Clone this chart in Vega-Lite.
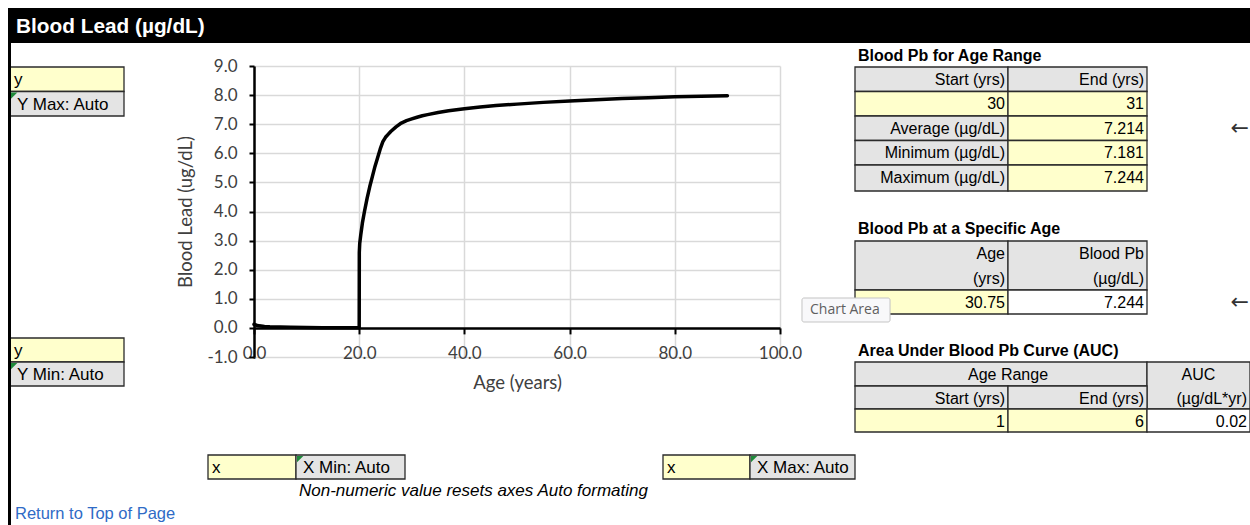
{
  "$schema": "https://vega.github.io/schema/vega-lite/v6.json",
  "padding": {"left": 8, "top": 8, "right": 0, "bottom": 0},
  "background": "#ffffff",
  "width": 526,
  "height": 291,
  "config": {"view": {"stroke": null}},
  "datasets": {
    "curve": [
      {"age": 0, "pb": 0.12}, {"age": 0.5, "pb": 0.09}, {"age": 1, "pb": 0.07}, {"age": 2, "pb": 0.05},
      {"age": 3, "pb": 0.04}, {"age": 5, "pb": 0.03}, {"age": 7, "pb": 0.02}, {"age": 10, "pb": 0.012},
      {"age": 13, "pb": 0.006}, {"age": 16, "pb": 0.003}, {"age": 19.9, "pb": 0.001}, {"age": 20, "pb": 0.0},
      {"age": 20.02, "pb": 2.6}, {"age": 20.1, "pb": 2.9}, {"age": 20.3, "pb": 3.2}, {"age": 20.6, "pb": 3.6},
      {"age": 21, "pb": 4.0}, {"age": 21.5, "pb": 4.45}, {"age": 22, "pb": 4.85}, {"age": 22.5, "pb": 5.2},
      {"age": 23, "pb": 5.55}, {"age": 23.5, "pb": 5.85}, {"age": 24, "pb": 6.15}, {"age": 24.5, "pb": 6.4},
      {"age": 25, "pb": 6.55}, {"age": 25.5, "pb": 6.65}, {"age": 26, "pb": 6.75}, {"age": 27, "pb": 6.91},
      {"age": 28, "pb": 7.04}, {"age": 29, "pb": 7.12}, {"age": 30, "pb": 7.18}, {"age": 31, "pb": 7.24},
      {"age": 32, "pb": 7.29}, {"age": 33, "pb": 7.33}, {"age": 35, "pb": 7.4}, {"age": 37, "pb": 7.46},
      {"age": 40, "pb": 7.53}, {"age": 43, "pb": 7.59}, {"age": 46, "pb": 7.64}, {"age": 50, "pb": 7.69},
      {"age": 55, "pb": 7.75}, {"age": 60, "pb": 7.8}, {"age": 65, "pb": 7.84}, {"age": 70, "pb": 7.88},
      {"age": 75, "pb": 7.91}, {"age": 80, "pb": 7.94}, {"age": 85, "pb": 7.96}, {"age": 90, "pb": 7.98}
    ],
    "cells": [
      {"c0": 0, "c1": 11, "r0": 0, "r1": 1, "kind": "bar"},
      {"c0": 1, "c1": 2, "r0": 2, "r1": 3, "kind": "input"},
      {"c0": 1, "c1": 2, "r0": 3, "r1": 4, "kind": "widget"},
      {"c0": 1, "c1": 2, "r0": 13, "r1": 14, "kind": "input"},
      {"c0": 1, "c1": 2, "r0": 14, "r1": 15, "kind": "widget"},
      {"c0": 3, "c1": 4, "r0": 18, "r1": 19, "kind": "input"},
      {"c0": 4, "c1": 5, "r0": 18, "r1": 19, "kind": "widget"},
      {"c0": 6, "c1": 7, "r0": 18, "r1": 19, "kind": "input"},
      {"c0": 7, "c1": 8, "r0": 18, "r1": 19, "kind": "widget"},
      {"c0": 8, "c1": 9, "r0": 2, "r1": 3, "kind": "head"},
      {"c0": 9, "c1": 10, "r0": 2, "r1": 3, "kind": "head"},
      {"c0": 8, "c1": 9, "r0": 3, "r1": 4, "kind": "input"},
      {"c0": 9, "c1": 10, "r0": 3, "r1": 4, "kind": "input"},
      {"c0": 8, "c1": 9, "r0": 4, "r1": 5, "kind": "head"},
      {"c0": 9, "c1": 10, "r0": 4, "r1": 5, "kind": "input"},
      {"c0": 8, "c1": 9, "r0": 5, "r1": 6, "kind": "head"},
      {"c0": 9, "c1": 10, "r0": 5, "r1": 6, "kind": "input"},
      {"c0": 8, "c1": 9, "r0": 6, "r1": 7, "kind": "head"},
      {"c0": 9, "c1": 10, "r0": 6, "r1": 7, "kind": "input"},
      {"c0": 8, "c1": 9, "r0": 9, "r1": 11, "kind": "head"},
      {"c0": 9, "c1": 10, "r0": 9, "r1": 11, "kind": "head"},
      {"c0": 8, "c1": 9, "r0": 11, "r1": 12, "kind": "input"},
      {"c0": 9, "c1": 10, "r0": 11, "r1": 12, "kind": "out"},
      {"c0": 8, "c1": 10, "r0": 14, "r1": 15, "kind": "head"},
      {"c0": 10, "c1": 11, "r0": 14, "r1": 16, "kind": "head"},
      {"c0": 8, "c1": 9, "r0": 15, "r1": 16, "kind": "head"},
      {"c0": 9, "c1": 10, "r0": 15, "r1": 16, "kind": "head"},
      {"c0": 8, "c1": 9, "r0": 16, "r1": 17, "kind": "input"},
      {"c0": 9, "c1": 10, "r0": 16, "r1": 17, "kind": "input"},
      {"c0": 10, "c1": 11, "r0": 16, "r1": 17, "kind": "out"}
    ],
    "frame": [{"c": 0, "r0": 1, "r1": 21}],
    "tip": [{"c0": 7.495, "c1": 8.229, "r0": 11.333, "r1": 12.333, "text": "Chart Area"}],
    "texts": [
      {"text": "Blood Lead (µg/dL)", "r": 0, "c": 0, "role": "bar"},
      {"text": "y", "r": 2, "c": 1, "role": "left"},
      {"text": "Y Max: Auto", "r": 3, "c": 1, "role": "wlabel"},
      {"text": "y", "r": 13, "c": 1, "role": "left"},
      {"text": "Y Min: Auto", "r": 14, "c": 1, "role": "wlabel"},
      {"text": "x", "r": 18, "c": 3, "role": "left"},
      {"text": "X Min: Auto", "r": 18, "c": 4, "role": "wlabel"},
      {"text": "x", "r": 18, "c": 6, "role": "left"},
      {"text": "X Max: Auto", "r": 18, "c": 7, "role": "wlabel"},
      {"text": "Non-numeric value resets axes Auto formating", "r": 19, "c": 4, "role": "note"},
      {"text": "Return to Top of Page", "r": 20, "c": 1, "role": "link"},
      {"text": "Blood Pb for Age Range", "r": 1, "c": 8, "role": "title"},
      {"text": "Start (yrs)", "r": 2, "c": 9, "role": "right"},
      {"text": "End (yrs)", "r": 2, "c": 10, "role": "right"},
      {"text": "30", "r": 3, "c": 9, "role": "right"},
      {"text": "31", "r": 3, "c": 10, "role": "right"},
      {"text": "Average (µg/dL)", "r": 4, "c": 9, "role": "right"},
      {"text": "7.214", "r": 4, "c": 10, "role": "right"},
      {"text": "Minimum (µg/dL)", "r": 5, "c": 9, "role": "right"},
      {"text": "7.181", "r": 5, "c": 10, "role": "right"},
      {"text": "Maximum (µg/dL)", "r": 6, "c": 9, "role": "right"},
      {"text": "7.244", "r": 6, "c": 10, "role": "right"},
      {"text": "←", "r": 4, "c": 10.9, "role": "arrow"},
      {"text": "Blood Pb at a Specific Age", "r": 8, "c": 8, "role": "title"},
      {"text": "Age", "r": 9, "c": 9, "role": "right"},
      {"text": "(yrs)", "r": 10, "c": 9, "role": "right"},
      {"text": "Blood Pb", "r": 9, "c": 10, "role": "right"},
      {"text": "(µg/dL)", "r": 10, "c": 10, "role": "right"},
      {"text": "30.75", "r": 11, "c": 9, "role": "right"},
      {"text": "7.244", "r": 11, "c": 10, "role": "right"},
      {"text": "←", "r": 11, "c": 10.9, "role": "arrow"},
      {"text": "Area Under Blood Pb Curve (AUC)", "r": 13, "c": 8, "role": "title"},
      {"text": "Age Range", "r": 14, "c": 9, "role": "center"},
      {"text": "AUC", "r": 14, "c": 10.5, "role": "center"},
      {"text": "(µg/dL*yr)", "r": 15, "c": 11, "role": "right"},
      {"text": "Start (yrs)", "r": 15, "c": 9, "role": "right"},
      {"text": "End (yrs)", "r": 15, "c": 10, "role": "right"},
      {"text": "1", "r": 16, "c": 9, "role": "right"},
      {"text": "6", "r": 16, "c": 10, "role": "right"},
      {"text": "0.02", "r": 16, "c": 11, "role": "right"}
    ]
  },
  "layer": [
    {
      "layer": [
        {
          "data": {"name": "curve"},
          "mark": {"type": "line", "color": "#000000", "strokeWidth": 3.5, "strokeCap": "round", "strokeJoin": "round"},
          "encoding": {
            "x": {
              "field": "age", "type": "quantitative",
              "scale": {"domain": [0, 100], "nice": false, "zero": false},
              "axis": {
                "title": "Age (years)", "values": [0, 20, 40, 60, 80, 100], "format": ".1f",
                "offset": -29.1, "domainColor": "#000000", "domainWidth": 2.5,
                "tickColor": "#000000", "tickWidth": 2, "tickSize": 6, "labelPadding": 11.5,
                "labelFont": "Lato", "labelFontSize": 17, "labelColor": "#404040",
                "labelFlush": false, "labelOverlap": false,
                "titleFont": "Lato", "titleFontSize": 18.5, "titleFontWeight": "normal",
                "titleColor": "#404040", "titlePadding": 12,
                "grid": true, "gridColor": "#d9d9d9", "gridWidth": 1.5
              }
            },
            "y": {
              "field": "pb", "type": "quantitative",
              "scale": {"domain": [-1, 9], "nice": false, "zero": false},
              "axis": {
                "title": "Blood Lead (ug/dL)", "values": [-1, 0, 1, 2, 3, 4, 5, 6, 7, 8, 9],
                "labelExpr": "datum.value < 0 ? '-' + format(-datum.value, '.1f') : format(datum.value, '.1f')",
                "domainColor": "#000000", "domainWidth": 2.5,
                "tickColor": "#000000", "tickWidth": 2, "tickSize": 5, "labelPadding": 12,
                "labelFont": "Lato", "labelFontSize": 17, "labelColor": "#404040",
                "labelFlush": false, "labelOverlap": false,
                "titleFont": "Lato", "titleFontSize": 18.5, "titleFontWeight": "normal",
                "titleColor": "#404040", "titlePadding": 11,
                "grid": true, "gridColor": "#d9d9d9", "gridWidth": 1.5
              }
            }
          }
        }
      ]
    },
    {
      "encoding": {
        "x": {"field": "c0", "type": "quantitative", "axis": null,
              "scale": {"type": "linear", "domain": [0, 1, 2, 3, 4, 5, 6, 7, 8, 9, 10, 11], "range": [-246, -244, -130, -46, 42, 151, 409, 496, 601, 754, 893, 996], "nice": false, "zero": false}},
        "y": {"field": "r0", "type": "quantitative", "axis": null,
              "scale": {"type": "linear", "domain": [0, 1, 2, 3, 4, 5, 6, 7, 8, 9, 10, 11, 12, 13, 14, 15, 16, 17, 18, 19, 20, 21], "range": [-58, -23, 1, 25.5, 50, 74.5, 99, 125, 150, 175, 200, 224, 248, 272, 296, 320, 343, 366, 389, 413, 437, 459], "nice": false, "zero": false}}
      },
      "layer": [
        {
          "data": {"name": "cells"},
          "transform": [{"filter": "datum.kind === 'bar'"}],
          "mark": {"type": "rect", "fill": "#000000", "strokeWidth": 0},
          "encoding": {"x2": {"field": "c1"}, "y2": {"field": "r1"}}
        },
        {
          "data": {"name": "cells"},
          "transform": [{"filter": "datum.kind !== 'bar'"}],
          "mark": {"type": "rect", "stroke": "#2b2b2b", "strokeWidth": 1.3},
          "encoding": {
            "x2": {"field": "c1"}, "y2": {"field": "r1"},
            "fill": {"field": "kind", "type": "nominal", "legend": null,
                     "scale": {"domain": ["head", "input", "out", "widget"], "range": ["#e4e4e4", "#ffffcc", "#ffffff", "#e4e4e4"]}}
          }
        },
        {
          "data": {"name": "frame"},
          "mark": {"type": "rule", "color": "#000000", "strokeWidth": 3, "xOffset": 1.5},
          "encoding": {"x": {"field": "c", "type": "quantitative"}, "y": {"field": "r0", "type": "quantitative"}, "y2": {"field": "r1"}}
        },
        {
          "data": {"name": "cells"},
          "transform": [{"filter": "datum.kind === 'widget'"}],
          "mark": {"type": "point", "shape": "M0,0L2,0L0,2Z", "filled": true, "size": 40, "color": "#1f8a3b", "opacity": 1, "strokeWidth": 0, "xOffset": 1, "yOffset": 1}
        },
        {
          "data": {"name": "texts"},
          "transform": [{"filter": "datum.role === 'bar'"}],
          "mark": {"type": "text", "align": "left", "baseline": "middle", "dx": 8, "dy": 19, "font": "Liberation Sans", "fontSize": 20.8, "fontWeight": "bold", "color": "#ffffff"},
          "encoding": {"x": {"field": "c", "type": "quantitative"}, "y": {"field": "r", "type": "quantitative"}, "text": {"field": "text"}}
        },
        {
          "data": {"name": "texts"},
          "transform": [{"filter": "datum.role === 'title'"}],
          "mark": {"type": "text", "align": "left", "baseline": "middle", "dx": 3, "dy": 13, "font": "Liberation Sans", "fontSize": 16, "fontWeight": "bold", "color": "#000000"},
          "encoding": {"x": {"field": "c", "type": "quantitative"}, "y": {"field": "r", "type": "quantitative"}, "text": {"field": "text"}}
        },
        {
          "data": {"name": "texts"},
          "transform": [{"filter": "datum.role === 'left'"}],
          "mark": {"type": "text", "align": "left", "baseline": "middle", "dx": 4, "dy": 13, "font": "Liberation Sans", "fontSize": 17, "color": "#000000"},
          "encoding": {"x": {"field": "c", "type": "quantitative"}, "y": {"field": "r", "type": "quantitative"}, "text": {"field": "text"}}
        },
        {
          "data": {"name": "texts"},
          "transform": [{"filter": "datum.role === 'wlabel'"}],
          "mark": {"type": "text", "align": "left", "baseline": "middle", "dx": 7, "dy": 13, "font": "Liberation Sans", "fontSize": 17, "color": "#000000"},
          "encoding": {"x": {"field": "c", "type": "quantitative"}, "y": {"field": "r", "type": "quantitative"}, "text": {"field": "text"}}
        },
        {
          "data": {"name": "texts"},
          "transform": [{"filter": "datum.role === 'right'"}],
          "mark": {"type": "text", "align": "right", "baseline": "middle", "dx": -3, "dy": 12.5, "font": "Liberation Sans", "fontSize": 16, "color": "#000000"},
          "encoding": {"x": {"field": "c", "type": "quantitative"}, "y": {"field": "r", "type": "quantitative"}, "text": {"field": "text"}}
        },
        {
          "data": {"name": "texts"},
          "transform": [{"filter": "datum.role === 'center'"}],
          "mark": {"type": "text", "align": "center", "baseline": "middle", "dy": 12.5, "font": "Liberation Sans", "fontSize": 16, "color": "#000000"},
          "encoding": {"x": {"field": "c", "type": "quantitative"}, "y": {"field": "r", "type": "quantitative"}, "text": {"field": "text"}}
        },
        {
          "data": {"name": "texts"},
          "transform": [{"filter": "datum.role === 'note'"}],
          "mark": {"type": "text", "align": "left", "baseline": "middle", "dx": 3, "dy": 12, "font": "Liberation Sans", "fontSize": 17, "fontStyle": "italic", "color": "#000000"},
          "encoding": {"x": {"field": "c", "type": "quantitative"}, "y": {"field": "r", "type": "quantitative"}, "text": {"field": "text"}}
        },
        {
          "data": {"name": "texts"},
          "transform": [{"filter": "datum.role === 'link'"}],
          "mark": {"type": "text", "align": "left", "baseline": "middle", "dx": 5, "dy": 11, "font": "Liberation Sans", "fontSize": 16.5, "color": "#2f6bc6"},
          "encoding": {"x": {"field": "c", "type": "quantitative"}, "y": {"field": "r", "type": "quantitative"}, "text": {"field": "text"}}
        },
        {
          "data": {"name": "texts"},
          "transform": [{"filter": "datum.role === 'arrow'"}],
          "mark": {"type": "text", "align": "center", "baseline": "middle", "dy": 12, "font": "DejaVu Sans", "fontSize": 22, "color": "#333333"},
          "encoding": {"x": {"field": "c", "type": "quantitative"}, "y": {"field": "r", "type": "quantitative"}, "text": {"field": "text"}}
        },
        {
          "data": {"name": "tip"},
          "mark": {"type": "rect", "fill": "#bdbdbd", "opacity": 0.45, "xOffset": 3, "yOffset": 3, "cornerRadius": 2},
          "encoding": {"x2": {"field": "c1"}, "y2": {"field": "r1"}}
        },
        {
          "data": {"name": "tip"},
          "mark": {"type": "rect", "fill": "#f8f8fa", "stroke": "#c4c4c4", "strokeWidth": 1, "cornerRadius": 2},
          "encoding": {"x2": {"field": "c1"}, "y2": {"field": "r1"}}
        },
        {
          "data": {"name": "tip"},
          "mark": {"type": "text", "align": "left", "baseline": "middle", "dx": 8, "dy": 12, "font": "Open Sans", "fontSize": 14, "color": "#5f5f5f"},
          "encoding": {"text": {"field": "text"}}
        }
      ]
    }
  ],
  "resolve": {"scale": {"x": "independent", "y": "independent"}}
}
